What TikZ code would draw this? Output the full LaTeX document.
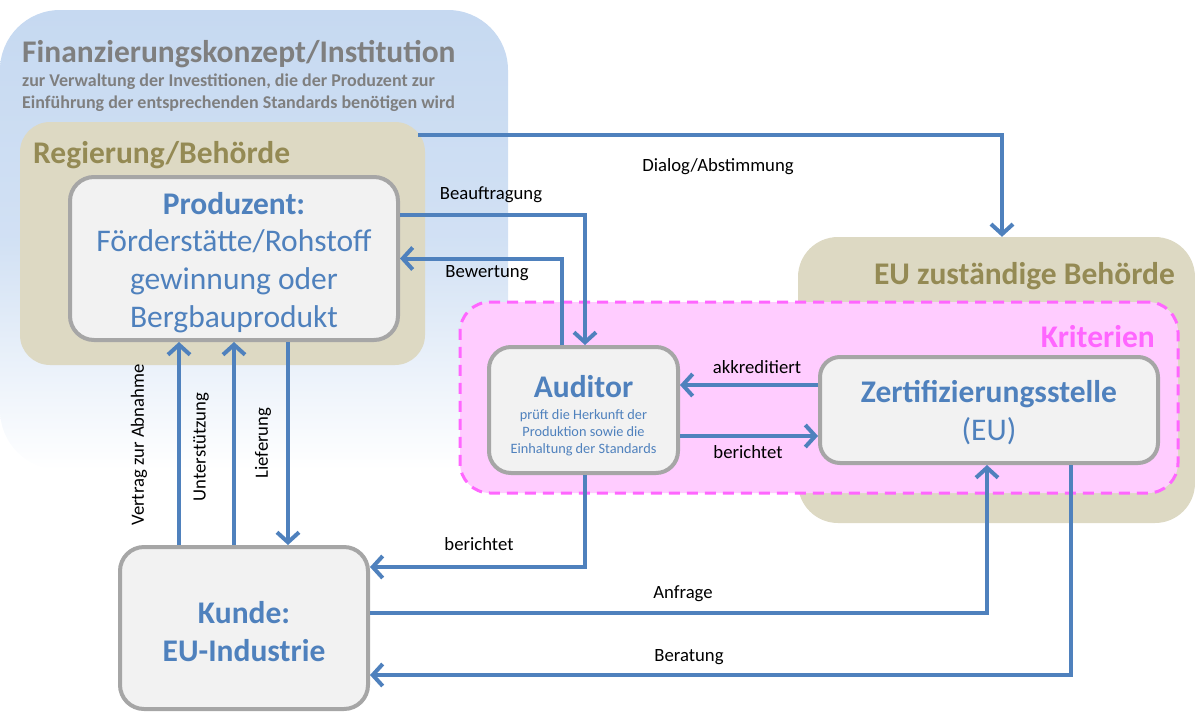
\documentclass[tikz,border=0pt]{standalone}
\usepackage{fontspec}
\setmainfont{Carlito}
\usetikzlibrary{arrows.meta,calc}

\definecolor{flowblue}{RGB}{79,129,189}
\definecolor{finblue}{RGB}{198,217,241}
\definecolor{govtan}{RGB}{221,217,195}
\definecolor{govtext}{RGB}{148,138,84}
\definecolor{boxfill}{RGB}{242,242,242}
\definecolor{boxline}{RGB}{166,166,166}
\definecolor{critfill}{RGB}{255,204,255}
\definecolor{critline}{RGB}{255,102,255}
\definecolor{fintext}{RGB}{127,127,127}

\newcommand\fsz[2]{\fontsize{#1}{#2}\selectfont}
% invisible strut that lowers a text block inside its box
\newcommand\topgap[1]{\rule{0pt}{#1}}

\begin{document}
\begin{tikzpicture}[x=1pt,y=-1pt,
  region/.style={fill=govtan, draw=none, rounded corners=30pt, inner sep=0pt},
  actor/.style={draw=boxline, fill=boxfill, line width=4pt, rounded corners=24pt,
                align=center, text=flowblue, inner sep=0pt},
  flow/.style={draw=flowblue, line width=4pt, -{Straight Barb[length=10pt,width=22pt]}},
  flowlabel/.style={font=\fsz{18.7}{22}, text=black, inner sep=0pt},
  grouptitle/.style={font=\fsz{31.5}{36}\bfseries, text=govtext, inner sep=0pt},
]
\useasboundingbox (0,0) rectangle (1195,713);

% financing concept: blue panel fading out downwards
\shade[top color=finblue, bottom color=white, middle color=finblue!80!white,
       rounded corners=60pt] (0,10) rectangle (508,470);
\node[anchor=base west, font=\fsz{31.5}{36}\bfseries, text=fintext, inner sep=0pt]
  (fintitle) at (22,62) {Finanzierungskonzept/Institution};
\node[anchor=base west, font=\fsz{18}{22}\bfseries, text=fintext, inner sep=0pt]
  (finsub) at (22,86) {\vtop{\hbox{zur Verwaltung der Investitionen, die der Produzent zur}%
  \hbox{Einführung der entsprechenden Standards\ benötigen wird}}};

% authorities
\node[region, minimum width=405pt, minimum height=243pt] (reg) at (222.5,243.5) {};
\node[grouptitle, anchor=base west] (regtitle) at (33,163) {Regierung/Behörde};
\node[region, rounded corners=40pt, minimum width=397pt, minimum height=286pt] (eu) at (996.5,380) {};
\node[grouptitle, anchor=base east] (eutitle) at (1175,284) {EU zuständige Behörde};

% criteria area
\node[fill=critfill, draw=critline, line width=3pt, dash pattern=on 11pt off 7pt,
      rounded corners=30pt, minimum width=718pt, minimum height=191pt, inner sep=0pt]
  (krit) at (819,397.5) {};
\node[font=\fsz{31.5}{36}\bfseries, text=critline, anchor=base east, inner sep=0pt]
  (krittitle) at (1155,347) {Kriterien};

% actors
\node[actor, font=\fsz{31.5}{37.7}, minimum width=328pt, minimum height=163pt]
  (prod) at (234,258.5) {\topgap{30pt}{\bfseries Produzent:}\\Förderstätte/Rohstoff\\gewinnung oder\\Bergbauprodukt};
\node[actor, rounded corners=22pt, font=\fsz{14.3}{17}, minimum width=189pt, minimum height=126pt]
  (aud) at (583.5,410) {\topgap{33pt}{\fsz{31.5}{34}\bfseries Auditor}\\[5pt]prüft die Herkunft der\\Produktion sowie die\\Einhaltung der Standards};
\node[actor, rounded corners=20pt, font=\fsz{31.5}{38}, minimum width=338pt, minimum height=106pt]
  (zert) at (989,410) {\topgap{28pt}{\bfseries Zertifizierungsstelle}\\(EU)};
\node[actor, font=\fsz{31.5}{38}\bfseries, minimum width=248pt, minimum height=162pt]
  (kunde) at (244,628) {\topgap{29pt}Kunde:\\EU-Industrie};

% connectors
\coordinate (dlgstart) at (418,135);
\coordinate (dlgcorner) at (1002,135);
\draw[flow] (dlgstart) -- (dlgcorner) -- (dlgcorner |- eu.north);
\draw[flow] ($(prod.east)+(0,-44)$) -| ($(aud.north)+(1.5,0)$);
\draw[flow] ($(aud.north)+(-22,0)$) |- (prod.east);
\draw[flow] ($(zert.west)+(0,-25)$) -- ($(aud.east)+(0,-25)$);
\draw[flow] ($(aud.east)+(0,26)$) -- ($(zert.west)+(0,26)$);
\draw[flow] ($(aud.south)+(1.5,0)$) |- ($(kunde.east)+(0,-61)$);
\draw[flow] ($(kunde.east)+(0,-15)$) -| ($(zert.south)+(-2,0)$);
\draw[flow] ($(zert.south)+(82,0)$) |- ($(kunde.east)+(0,47)$);
\draw[flow] ($(kunde.north)+(-65,0)$) -- ($(prod.south)+(-55,0)$);
\draw[flow] ($(kunde.north)+(-10,0)$) -- ($(prod.south)+(0,0)$);
\draw[flow] ($(prod.south)+(54,0)$) -- ($(kunde.north)+(44,0)$);

% connector labels
\node[flowlabel] (lbldialog) at (718,167) {Dialog/Abstimmung};
\node[flowlabel] (lblauftrag) at (491,195) {Beauftragung};
\node[flowlabel] (lblbewert) at (487,273) {Bewertung};
\node[flowlabel] (lblakkr) at (757,367) {akkreditiert};
\node[flowlabel] (lblber1) at (748,452) {berichtet};
\node[flowlabel] (lblber2) at (479,544) {berichtet};
\node[flowlabel] (lblanfrage) at (683,594) {Anfrage};
\node[flowlabel] (lblberatung) at (689,657) {Beratung};
\node[flowlabel, rotate=90] (lblvertrag) at (139,445) {Vertrag zur Abnahme};
\node[flowlabel, rotate=90] (lblunterst) at (201,447) {Unterstützung};
\node[flowlabel, rotate=90] (lbllief) at (263,443) {Lieferung};
\end{tikzpicture}
\end{document}
